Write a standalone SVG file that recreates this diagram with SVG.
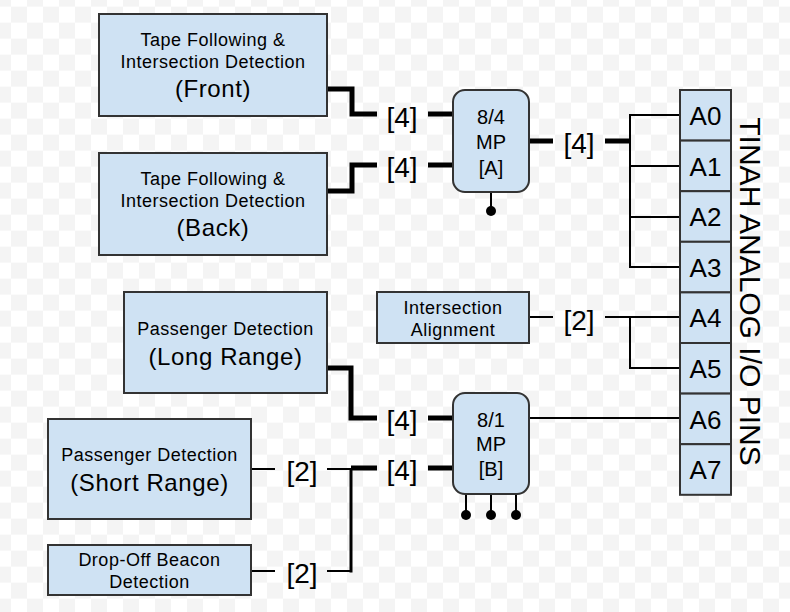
<svg xmlns="http://www.w3.org/2000/svg" width="790" height="612" viewBox="0 0 790 612">
<defs>
<pattern id="chk" patternUnits="userSpaceOnUse" x="11" y="6.67" width="32" height="32">
<rect width="32" height="32" fill="#ffffff"/>
<rect width="16" height="16" fill="#f4f4f4"/>
<rect x="16" y="16" width="16" height="16" fill="#f4f4f4"/>
</pattern>
<style>
.box{fill:#cfe2f3;stroke:#333;stroke-width:2}
.t{font-family:"Liberation Sans",Arial,sans-serif;fill:#000;text-anchor:middle;dominant-baseline:central}
.s{font-size:18px;letter-spacing:0.5px}
.l{font-size:24px;letter-spacing:0.6px}
.m{font-size:20px}
.lab{font-family:"Liberation Sans",Arial,sans-serif;font-size:28px;fill:#000;text-anchor:middle}
.pin{font-family:"Liberation Sans",Arial,sans-serif;font-size:26px;fill:#000;text-anchor:middle}
.thick{fill:none;stroke:#000;stroke-width:5}
.thin{fill:none;stroke:#000;stroke-width:2}
.med{fill:none;stroke:#000;stroke-width:3}
</style>
</defs>
<rect width="790" height="612" fill="url(#chk)"/>

<g id="connectors">
<path class="thick" d="M327,89 H352 V114 H377"/>
<path class="thick" d="M327,191 H352 V165 H377"/>
<path class="thick" d="M428,114 H453 M428,165 H453"/>
<path class="thick" d="M529,141 H553 M605,141 H630"/>
<path class="thin" d="M680,115 H630 V267 H680 M630,166 H680 M630,217 H680"/>
<path class="thin" d="M529,317 H553 M605,317 H680 M630,317 V368 H680"/>
<path class="thin" d="M529,418 H680"/>
<path class="thick" d="M327,368 H351 V418 H377"/>
<path class="thick" d="M428,418 H453 M428,468 H453 M351,468 H377"/>
<path class="thin" d="M251,469 H275 M327,469 H352 M251,571 H275 M327,571 H352"/>
<path class="med" d="M351,468 V572.5"/>
<text class="lab" x="402" y="127">[4]</text>
<text class="lab" x="402" y="177">[4]</text>
<text class="lab" x="579" y="153">[4]</text>
<text class="lab" x="579" y="330">[2]</text>
<text class="lab" x="402" y="430">[4]</text>
<text class="lab" x="402" y="480">[4]</text>
<text class="lab" x="302" y="481">[2]</text>
<text class="lab" x="302" y="583">[2]</text>
</g>

<g id="front">
<rect class="box" x="99" y="14" width="228" height="102"/>
<text class="t s" x="213" y="40">Tape Following &amp;</text>
<text class="t s" x="213" y="62">Intersection Detection</text>
<text class="t l" x="213" y="88">(Front)</text>
</g>
<g id="back">
<rect class="box" x="99" y="153" width="228" height="102"/>
<text class="t s" x="213" y="179">Tape Following &amp;</text>
<text class="t s" x="213" y="201">Intersection Detection</text>
<text class="t l" x="213" y="227">(Back)</text>
</g>
<g id="longrange">
<rect class="box" x="124" y="292" width="203" height="101"/>
<text class="t s" x="225.5" y="329">Passenger Detection</text>
<text class="t l" x="225.5" y="356">(Long Range)</text>
</g>
<g id="shortrange">
<rect class="box" x="48" y="419" width="203" height="100"/>
<text class="t s" x="149.5" y="455">Passenger Detection</text>
<text class="t l" x="149.5" y="482">(Short Range)</text>
</g>
<g id="dropoff">
<rect class="box" x="48" y="545" width="203" height="50"/>
<text class="t s" x="149.5" y="560">Drop-Off Beacon</text>
<text class="t s" x="149.5" y="582">Detection</text>
</g>
<g id="align">
<rect class="box" x="377" y="292" width="152" height="51"/>
<text class="t s" x="453" y="308">Intersection</text>
<text class="t s" x="453" y="330">Alignment</text>
</g>
<g id="mpA">
<path class="thin" d="M491,192 V211"/>
<circle cx="491" cy="211" r="5" fill="#000"/>
<rect class="box" x="453" y="90" width="76" height="102" rx="12"/>
<text class="t m" x="491" y="117">8/4</text>
<text class="t m" x="491" y="142">MP</text>
<text class="t m" x="491" y="168">[A]</text>
</g>
<g id="mpB">
<path class="thin" d="M466,494 V515 M491,494 V515 M516,494 V515"/>
<circle cx="466" cy="515" r="5" fill="#000"/>
<circle cx="491" cy="515" r="5" fill="#000"/>
<circle cx="516" cy="515" r="5" fill="#000"/>
<rect class="box" x="453" y="393" width="76" height="101" rx="12"/>
<text class="t m" x="491" y="420">8/1</text>
<text class="t m" x="491" y="444">MP</text>
<text class="t m" x="491" y="469">[B]</text>
</g>
<g id="pins">
<rect class="box" x="680" y="90" width="51" height="50.6"/>
<rect class="box" x="680" y="140.6" width="51" height="50.6"/>
<rect class="box" x="680" y="191.2" width="51" height="50.6"/>
<rect class="box" x="680" y="241.8" width="51" height="50.6"/>
<rect class="box" x="680" y="292.4" width="51" height="50.6"/>
<rect class="box" x="680" y="343" width="51" height="50.6"/>
<rect class="box" x="680" y="393.6" width="51" height="50.6"/>
<rect class="box" x="680" y="444.2" width="51" height="50.6"/>
<text class="pin" x="705.5" y="125">A0</text>
<text class="pin" x="705.5" y="175.6">A1</text>
<text class="pin" x="705.5" y="226.2">A2</text>
<text class="pin" x="705.5" y="276.8">A3</text>
<text class="pin" x="705.5" y="327.4">A4</text>
<text class="pin" x="705.5" y="378">A5</text>
<text class="pin" x="705.5" y="428.6">A6</text>
<text class="pin" x="705.5" y="479.2">A7</text>
<text transform="translate(740,291.5) rotate(90)" x="0" y="0" font-family="Liberation Sans, Arial, sans-serif" font-size="30" text-anchor="middle" fill="#000">TINAH ANALOG I/O PINS</text>
</g>
</svg>
